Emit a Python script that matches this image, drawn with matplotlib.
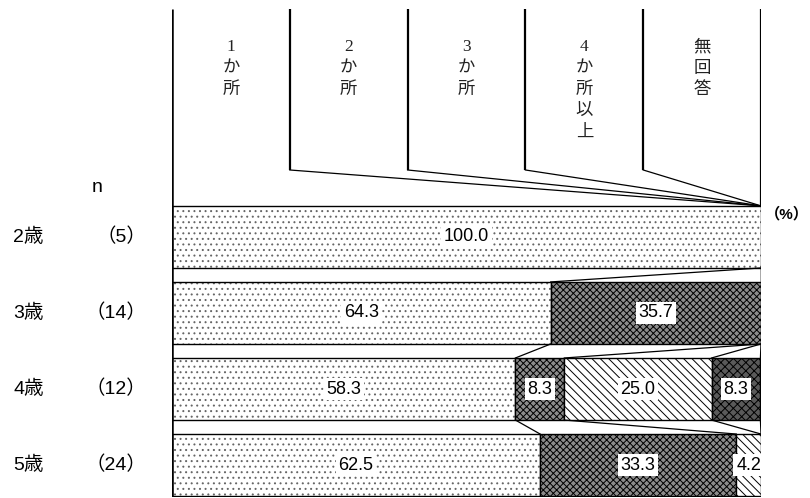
import matplotlib.pyplot as plt
import matplotlib.transforms as mtransforms
import numpy as np

plt.rcParams['font.family'] = ['Liberation Sans', 'Noto Sans CJK JP', 'DejaVu Sans']
plt.rcParams['hatch.linewidth'] = 0.7

# data
categories = ['1か所', '2か所', '3か所', '4か所以上', '無回答']
header_labels = ['1\nか\n所', '2\nか\n所', '3\nか\n所', '4\nか\n所\n以\n上', '無\n回\n答']
ages = ['2歳', '3歳', '4歳', '5歳']
n_labels = ['（5）', '（14）', '（12）', '（24）']
one_place = [100.0, 64.3, 58.3, 62.5]
two_places = [0.0, 35.7, 8.3, 33.3]
three_places = [0.0, 0.0, 25.0, 4.2]
four_plus = [0.0, 0.0, 8.3, 0.0]
no_answer = [0.0, 0.0, 0.0, 0.0]

values = np.array([one_place, two_places, three_places, four_plus, no_answer]).T

# patterns per category (hatch drawn in hatch_cols, outline drawn separately)
faces = ['white', '#8c8c8c', 'white', '#5a5a5a', 'white']
hatches = ['...', 'xxxxx', '\\\\\\\\', 'xxxx', '////']
hatch_cols = ['#666666', 'black', 'black', 'black', 'black']

fig = plt.figure(figsize=(8.1, 4.98), dpi=100)
ax = fig.add_axes([172 / 810, 1 - 497 / 498, 589 / 810, 489 / 498])
ax.set_xlim(0, 100)
ax.set_ylim(3.42, -3.01)
ax.axis('off')

bar_h = 0.816
rows = np.arange(len(ages))

# bars
for i in rows:
    left = 0
    for k in range(len(categories)):
        v = values[i, k]
        if v > 0:
            ax.barh(i, v, left=left, height=bar_h, color=faces[k],
                    edgecolor=hatch_cols[k], hatch=hatches[k], linewidth=0)
            ax.barh(i, v, left=left, height=bar_h, fill=False,
                    edgecolor='black', linewidth=1.0)
            ax.text(left + v / 2, i, f'{v:.1f}', ha='center', va='center',
                    fontsize=13, bbox=dict(facecolor='white', edgecolor='none', pad=2.0))
        left += v

cum = np.cumsum(values, axis=1)

# leader lines between bars
for i in range(len(ages) - 1):
    for k in range(len(categories) - 1):
        ax.plot([cum[i, k], cum[i + 1, k]], [i + bar_h / 2, i + 1 - bar_h / 2],
                color='black', lw=0.9)

# header columns and leader lines to first bar
top = -3.0
col_bottom = -0.88
col_w = 100 / len(categories)
for k in range(1, len(categories)):
    x = col_w * k
    ax.plot([x, x], [top, col_bottom], color='black', lw=1.6, solid_capstyle='butt')
    ax.plot([x, cum[0, k - 1]], [col_bottom, -bar_h / 2], color='black', lw=0.9)
ax.plot([0, 0], [top, 3.42], color='black', lw=1.8, solid_capstyle='butt')
ax.plot([100, 100], [top, -bar_h / 2], color='black', lw=1.6, solid_capstyle='butt')

for k, lab in enumerate(header_labels):
    ax.text(col_w * k + col_w / 2, -2.6, lab, ha='center', va='top',
            fontsize=12.5, family=['Liberation Serif', 'Noto Sans CJK JP'],
            linespacing=1.45, color='#222222')

# row labels
tr = mtransforms.blended_transform_factory(fig.transFigure, ax.transData)
for i in rows:
    ax.text(13 / 810, i, ages[i], transform=tr, ha='left', va='center', fontsize=14)
    ax.text(146 / 810, i, n_labels[i], transform=tr, ha='right', va='center', fontsize=14)
fig.text(97 / 810, 1 - 187 / 498, 'n', ha='center', va='center', fontsize=14)
fig.text(787 / 810, 1 - 214 / 498, '（%）', ha='center', va='center', fontsize=11,
         weight='bold')

fig.savefig('out.png', dpi=100)
